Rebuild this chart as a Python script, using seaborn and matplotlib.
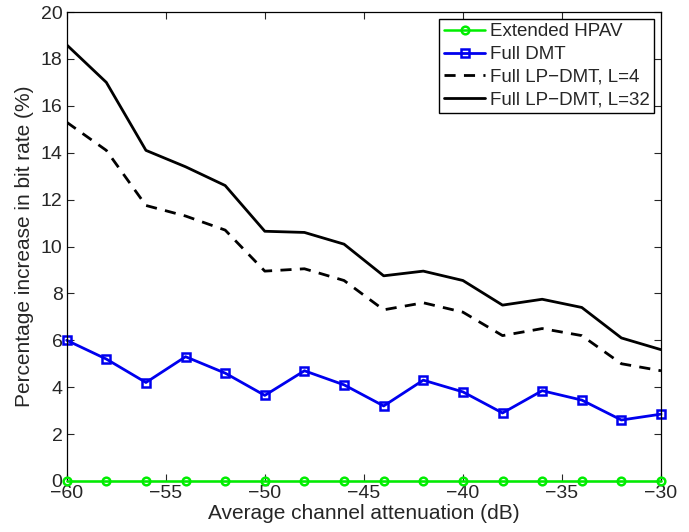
import numpy as np
import pandas as pd
import matplotlib
matplotlib.use('Agg')
import matplotlib.pyplot as plt
import seaborn as sns

atten = [-60, -58, -56, -54, -52, -50, -48, -46, -44, -42, -40, -38, -36, -34, -32, -30]
hpav = [0, 0, 0, 0, 0, 0, 0, 0, 0, 0, 0, 0, 0, 0, 0, 0]
full_dmt = [6.0, 5.2, 4.2, 5.3, 4.6, 3.65, 4.7, 4.1, 3.2, 4.3, 3.8, 2.9, 3.85, 3.45, 2.6, 2.85]
lp_l4 = [15.3, 14.1, 11.75, 11.3, 10.7, 8.95, 9.05, 8.55, 7.3, 7.6, 7.2, 6.2, 6.5, 6.2, 5.0, 4.7]
lp_l32 = [18.6, 17.0, 14.1, 13.4, 12.6, 10.65, 10.6, 10.1, 8.75, 8.95, 8.55, 7.5, 7.75, 7.4, 6.1, 5.6]

sns.set_style("ticks")
plt.rcParams['font.family'] = ['Liberation Sans', 'DejaVu Sans']
plt.rcParams['font.size'] = 14

fig = plt.figure(figsize=(6.89, 5.32), dpi=100)
ax = fig.add_axes([0.0968, 0.0959, 0.8626, 0.8815])

sns.lineplot(x=atten, y=hpav, ax=ax, color='#00ee00', lw=1.8, marker='o', ms=5.5,
             mfc='none', mec='#00ee00', mew=1.8, label='Extended HPAV', clip_on=False, zorder=5)
sns.lineplot(x=atten, y=full_dmt, ax=ax, color='#0000ee', lw=2, marker='s', ms=5.5,
             mfc='none', mec='#0000ee', mew=1.8, label='Full DMT', clip_on=False)
sns.lineplot(x=atten, y=lp_l4, ax=ax, color='black', lw=2, ls=(0, (4, 3)),
             label='Full LP\u2212DMT, L=4')
sns.lineplot(x=atten, y=lp_l32, ax=ax, color='black', lw=2,
             label='Full LP\u2212DMT, L=32')

ax.set_xlim(-60, -30)
ax.set_ylim(0, 20)
ax.set_xticks(np.arange(-60, -29, 5))
ax.set_yticks(np.arange(0, 21, 2))
ax.tick_params(direction='in', top=True, right=True, length=5, width=0.8, labelsize=14, pad=3)
for s in ax.spines.values():
    s.set_linewidth(0.9)
    s.set_color('black')
ax.set_xlabel('Average channel attenuation (dB)', fontsize=15, labelpad=1)
ax.set_ylabel('Percentage increase in bit rate (%)', fontsize=15, labelpad=5)

leg = ax.legend(loc='upper right', fontsize=13.5, frameon=True, fancybox=False,
                edgecolor='black', framealpha=1, borderpad=0.25, labelspacing=0.3,
                handlelength=2.2, handletextpad=0.25, borderaxespad=0.35)
leg.get_frame().set_linewidth(1)

fig.savefig('out.png', dpi=100)
